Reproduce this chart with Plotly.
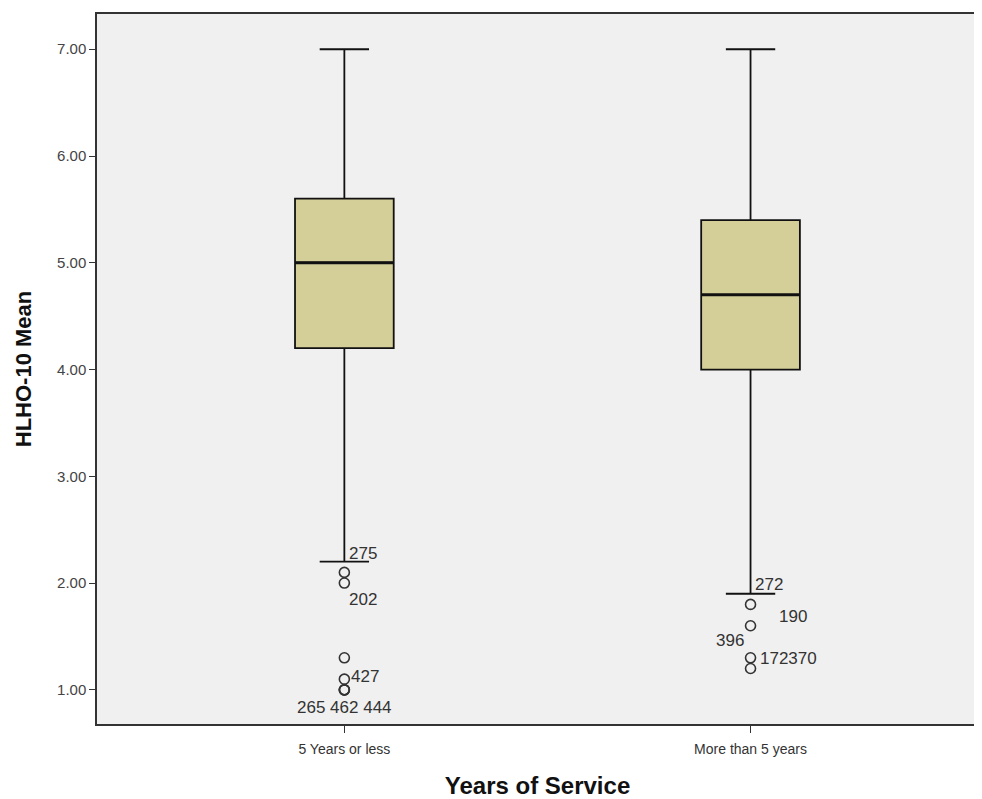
import plotly.graph_objects as go

categories = ["5 Years or less", "More than 5 years"]
q1 = [4.2, 4.0]
median = [5.0, 4.7]
q3 = [5.6, 5.4]
lower_whisker = [2.2, 1.9]
upper_whisker = [7.0, 7.0]

outlier_values = [
    [2.1, 2.0, 1.3, 1.1, 1.0, 1.0, 1.0],
    [1.8, 1.6, 1.3, 1.2],
]
outlier_labels = [
    [("275", 2.1, "left", 3, 19), ("202", 2.0, "left", 3, -16),
     ("427", 1.1, "left", 5, 3), ("265 462 444", 1.0, "center", 0, -18)],
    [("272", 1.8, "left", 2, 20), ("190", 1.6, "left", 26, 9),
     ("396", 1.6, "right", -5, -15), ("172370", 1.3, "left", 7, -1)],
]

FONT = "Arial, Liberation Sans, sans-serif"

fig = go.Figure()
fig.add_trace(go.Box(
    x=categories, q1=q1, median=median, q3=q3,
    lowerfence=lower_whisker, upperfence=upper_whisker,
    fillcolor="#d4cf99", line=dict(color="#111111", width=1.8),
    width=0.243, whiskerwidth=0.5, boxpoints=False, showlegend=False,
    hoverinfo="skip",
))
# thicker median line overlay (zero-height box at the median)
fig.add_trace(go.Box(
    x=categories, q1=median, median=median, q3=median,
    lowerfence=median, upperfence=median,
    fillcolor="rgba(0,0,0,0)", line=dict(color="#111111", width=3),
    width=0.243, whiskerwidth=0, boxpoints=False, showlegend=False,
    hoverinfo="skip",
))
for cat, vals in zip(categories, outlier_values):
    fig.add_trace(go.Scatter(
        x=[cat] * len(vals), y=vals, mode="markers",
        marker=dict(symbol="circle-open", size=10, color="#333333",
                    line=dict(width=1.6, color="#333333")),
        showlegend=False, hoverinfo="skip",
    ))

annotations = []
for cat, labs in zip(categories, outlier_labels):
    for txt, yv, anchor, dx, dy in labs:
        annotations.append(dict(
            x=cat, y=yv, xref="x", yref="y", text=txt, showarrow=False,
            xanchor=anchor, yanchor="middle", xshift=dx, yshift=dy,
            font=dict(family=FONT, size=17, color="#333333"),
        ))

fig.update_layout(
    width=974, height=791,
    margin=dict(l=89, r=2, t=6, b=75),
    paper_bgcolor="white", plot_bgcolor="#f0f0f0",
    annotations=annotations, boxmode="overlay",
    font=dict(family=FONT, color="#333333"),
)
fig.update_xaxes(
    type="category", range=[-0.609, 1.56],
    showline=True, linecolor="#333333", linewidth=1.5, mirror=True,
    ticks="outside", ticklen=7, tickcolor="#333333", ticklabelstandoff=4,
    showgrid=False, zeroline=False,
    tickfont=dict(size=14, color="#333333"),
    title=dict(text="<b>Years of Service</b>", font=dict(size=24, color="#111111"), standoff=24),
)
fig.update_yaxes(
    range=[0.68, 7.33], tickvals=[1, 2, 3, 4, 5, 6, 7], tickformat=".2f",
    showline=True, linecolor="#333333", linewidth=1.5, mirror=True,
    ticks="outside", ticklen=6, tickcolor="#333333",
    showgrid=False, zeroline=False,
    tickfont=dict(size=15, color="#444444"),
    title=dict(text="<b>HLHO-10 Mean</b>", font=dict(size=22, color="#111111"), standoff=19),
)
fig.write_html("out.html")
